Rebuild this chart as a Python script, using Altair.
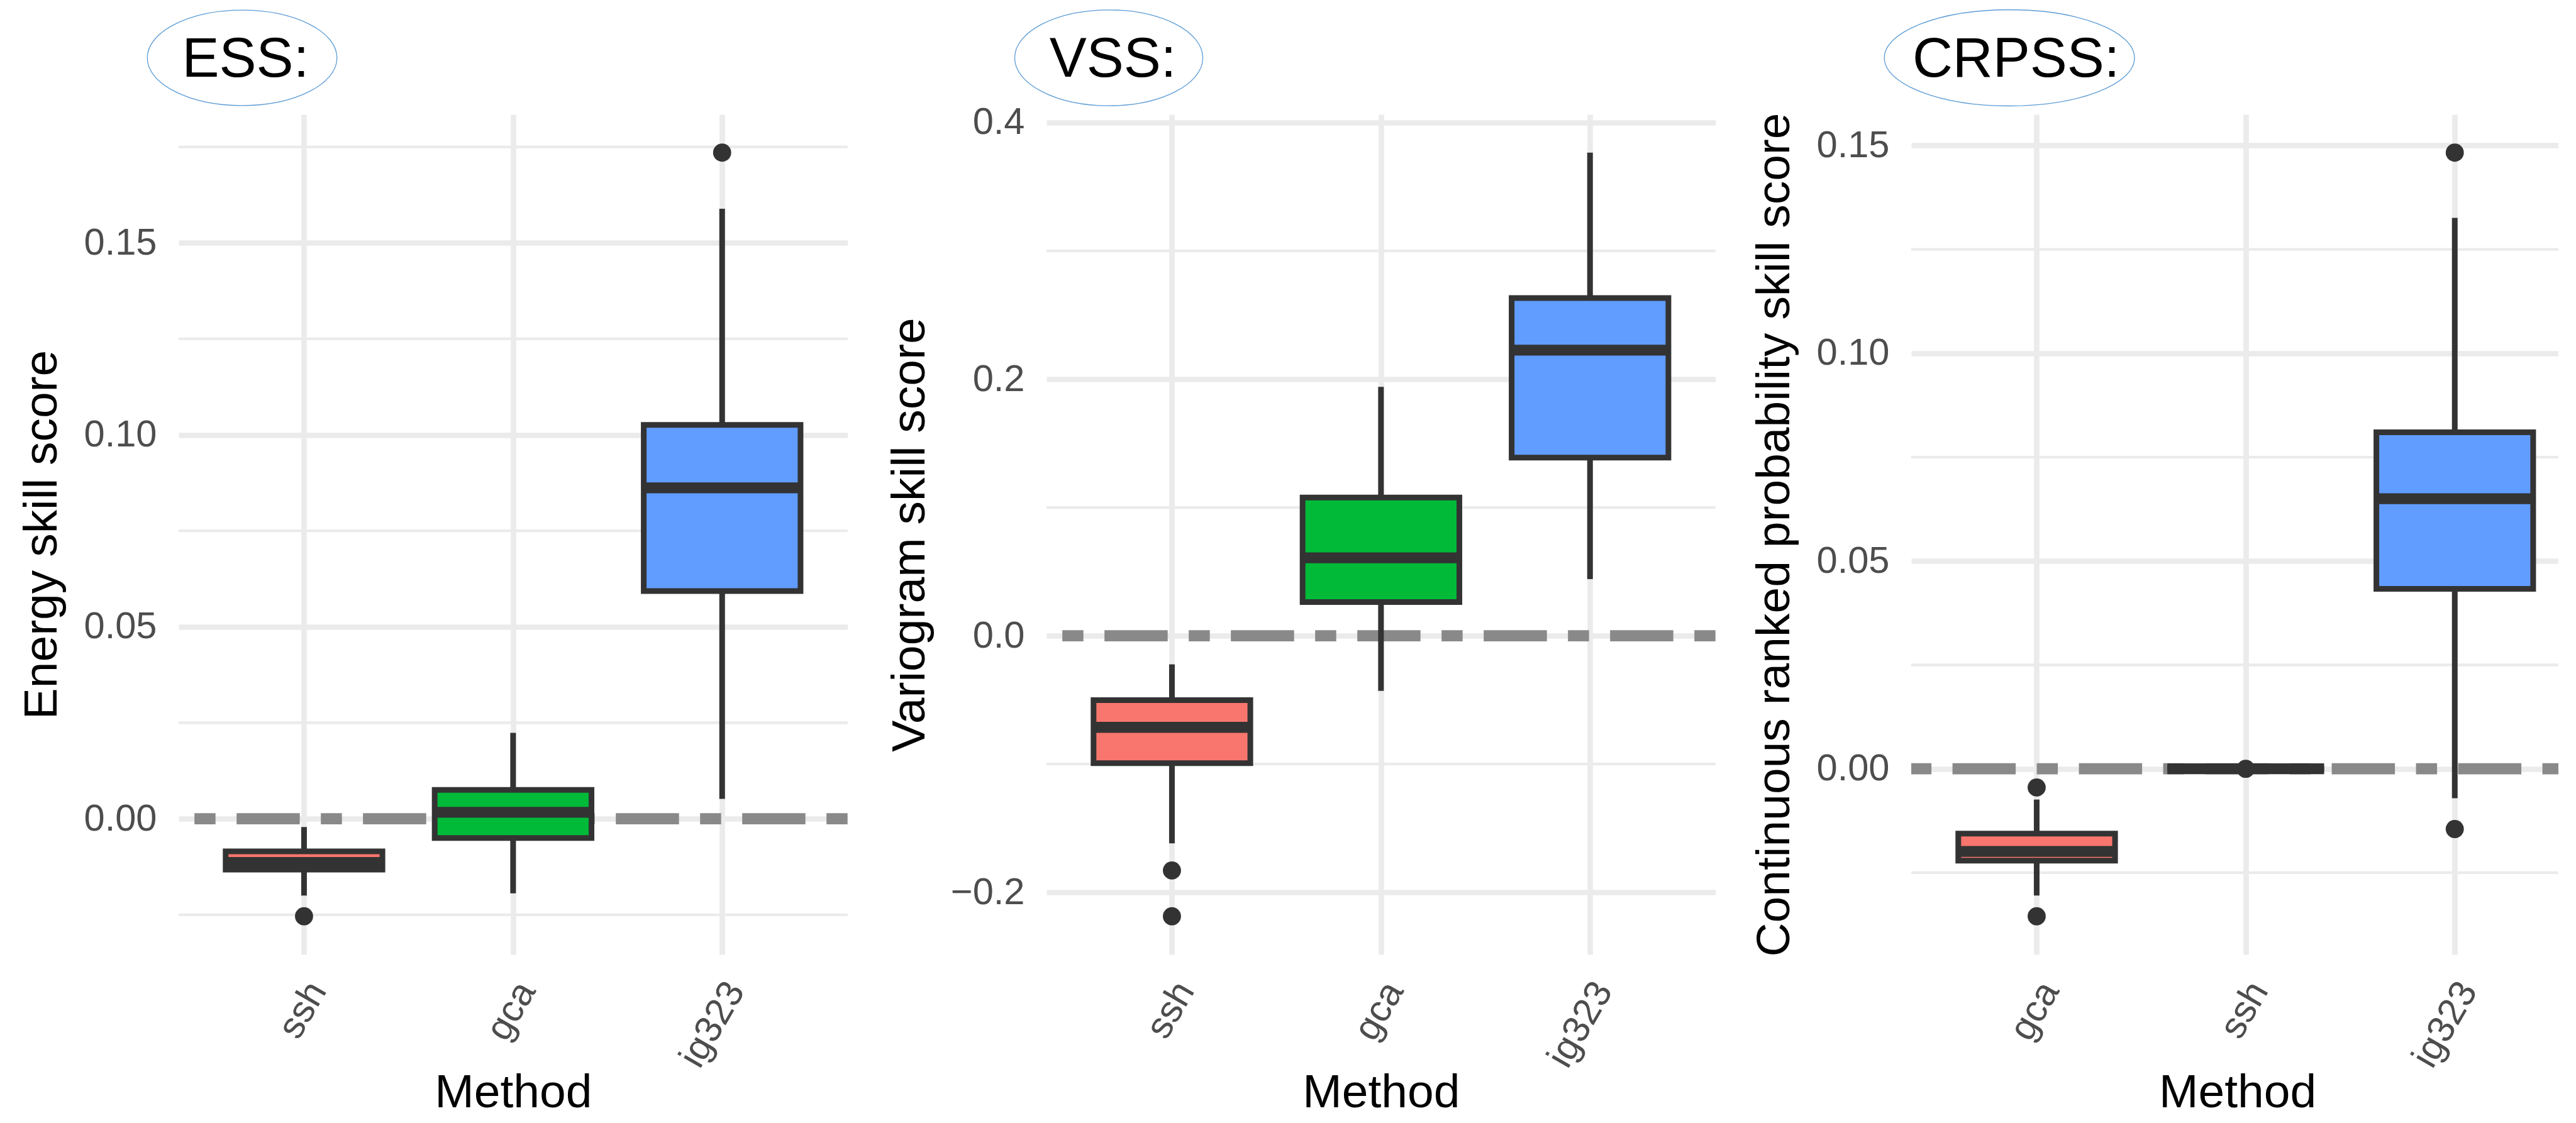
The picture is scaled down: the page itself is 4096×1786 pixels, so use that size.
import json
import altair as alt
import pandas as pd

# ---------------- data ----------------
fill_palette = ["#F8766D", "#00BA38", "#619CFF"]

ess_methods = ["ssh", "gca", "ig323"]
ess_lower = [-0.0200, -0.0194, 0.0052]
ess_q1 = [-0.01325, -0.0050, 0.0593]
ess_median = [-0.01136, 0.0017, 0.0862]
ess_q3 = [-0.00847, 0.0075, 0.1026]
ess_upper = [-0.00215, 0.0224, 0.1589]
ess_out_method = ["ssh", "ig323"]
ess_out_value = [-0.0254, 0.1735]
ess_ticks = [0.00, 0.05, 0.10, 0.15]
ess_minor = [-0.025, 0.025, 0.075, 0.125, 0.175]

vss_methods = ["ssh", "gca", "ig323"]
vss_lower = [-0.1618, -0.0430, 0.0441]
vss_q1 = [-0.0993, 0.0262, 0.1389]
vss_median = [-0.0714, 0.0608, 0.2226]
vss_q3 = [-0.0502, 0.1077, 0.2633]
vss_upper = [-0.0223, 0.1940, 0.3766]
vss_out_method = ["ssh", "ssh"]
vss_out_value = [-0.1830, -0.2187]
vss_ticks = [-0.2, 0.0, 0.2, 0.4]
vss_minor = [-0.1, 0.1, 0.3]

crpss_methods = ["gca", "ssh", "ig323"]
crpss_lower = [-0.0305, 0.0, -0.0071]
crpss_q1 = [-0.0221, 0.0, 0.0433]
crpss_median = [-0.0199, 0.0, 0.0650]
crpss_q3 = [-0.0156, 0.0, 0.0810]
crpss_upper = [-0.0074, 0.0, 0.1326]
crpss_out_method = ["gca", "gca", "ssh", "ig323", "ig323"]
crpss_out_value = [-0.0045, -0.0355, 0.0, 0.1483, -0.0145]
crpss_ticks = [0.00, 0.05, 0.10, 0.15]
crpss_minor = [-0.025, 0.025, 0.075, 0.125]

panel_titles = ["ESS:", "VSS:", "CRPSS:"]
y_titles = ["Energy skill score", "Variogram skill score",
            "Continuous ranked probability skill score"]
x_title = "Method"

# ---------------- styling / layout ----------------
FONT = "Liberation Sans"
PLOT_H = 1336
STEP = 332.4
LINE_W = 9.0
MED_W = 17.3
GRID_MAJOR = 8.7
GRID_MINOR = 4.35
ELL_COLOR = "#5B9BD5"


def panel(methods, lower, q1, med, q3, upper, out_m, out_v, ticks, minor,
          fmt, title, ytitle, xmax, ell_cx, ell_w, ell_h, txt_cx):
    pos = [i + 1 for i in range(len(methods))]
    box = pd.DataFrame({
        "method": methods, "pos": pos,
        "xmin": [p - 0.375 for p in pos], "xmax": [p + 0.375 for p in pos],
        "lower": lower, "q1": q1, "median": med, "q3": q3, "upper": upper,
    })
    pmap = dict(zip(methods, pos))
    outl = pd.DataFrame({"method": out_m, "pos": [pmap[m] for m in out_m],
                         "value": out_v})
    lo = min(min(lower), min(out_v))
    hi = max(max(upper), max(out_v))
    ex = (hi - lo) * 0.05
    ydom = [lo - ex, hi + ex]
    width = (xmax - 0.4) * STEP

    yaxis = alt.Axis(values=ticks, format=fmt, grid=True, gridColor="#EBEBEB",
                     gridWidth=GRID_MAJOR, domain=False, ticks=False, tickSize=0,
                     labelFontSize=59.6, labelColor="#4D4D4D", labelPadding=35,
                     titleFontSize=75, titleColor="#000000", titlePadding=38,
                     titleFontWeight="normal", minExtent=140, maxExtent=140,
                     titleLimit=3000)
    label_expr = json.dumps([""] + methods) + "[datum.value]"
    xaxis = alt.Axis(values=pos, labelExpr=label_expr, grid=True,
                     gridColor="#EBEBEB", gridWidth=GRID_MAJOR, domain=False,
                     ticks=False, tickSize=0, labelAngle=-60, labelAlign="right",
                     labelBaseline="top", labelPadding=33.5, labelOffset=-4,
                     labelFontSize=59.6, labelColor="#4D4D4D", labelFlush=False,
                     labelOverlap=False, titleFontSize=75, titleColor="#000000",
                     titleFontWeight="normal", titlePadding=7.3,
                     minExtent=176, maxExtent=176)
    xscale = alt.Scale(domain=[0.4, xmax], nice=False, zero=False)
    yscale = alt.Scale(domain=ydom, nice=False, zero=False)

    def X(f):
        return alt.X(f"{f}:Q", scale=xscale, axis=xaxis, title=x_title)

    def Y(f):
        return alt.Y(f"{f}:Q", scale=yscale, axis=yaxis, title=ytitle)

    minor_layer = alt.Chart(pd.DataFrame({"minor": minor})).mark_rule(
        color="#EBEBEB", strokeWidth=GRID_MINOR).encode(y=Y("minor"))
    zero_layer = alt.Chart(pd.DataFrame({"ref": [0.0]})).mark_rule(
        color="#898989", strokeWidth=17.7,
        strokeDash=[33.5, 33.5, 100.5, 33.5]).encode(y=Y("ref"))
    base = alt.Chart(box)
    up_w = base.mark_rule(color="#333333", strokeWidth=LINE_W).encode(
        x=X("pos"), y=Y("upper"), y2=alt.Y2("q3"))
    lo_w = base.mark_rule(color="#333333", strokeWidth=LINE_W).encode(
        x=X("pos"), y=Y("q1"), y2=alt.Y2("lower"))
    rect = base.mark_rect(stroke="#333333", strokeWidth=LINE_W, opacity=1).encode(
        x=X("xmin"), x2=alt.X2("xmax"), y=Y("q1"), y2=alt.Y2("q3"),
        color=alt.Color("method:N", scale=alt.Scale(domain=methods,
                                                     range=fill_palette),
                        legend=None))
    med_l = base.mark_rule(color="#333333", strokeWidth=MED_W).encode(
        x=X("xmin"), x2=alt.X2("xmax"), y=Y("median"))
    pts = alt.Chart(outl).mark_circle(size=830, color="#333333",
                                      opacity=1).encode(x=X("pos"), y=Y("value"))

    r = ell_h / ell_w
    path = f"M -1 0 A 1 {r:.4f} 0 1 1 1 0 A 1 {r:.4f} 0 1 1 -1 0 Z"
    lab = pd.DataFrame({"label": [title]})
    ell = alt.Chart(lab).mark_point(shape=path, size=ell_w * ell_w,
                                     filled=False, color=ELL_COLOR,
                                     strokeWidth=1.3, opacity=1).encode(
        x=alt.value(ell_cx), y=alt.value(-90))
    txt = alt.Chart(lab).mark_text(fontSize=88.5, color="#000000",
                                   align="center", baseline="alphabetic").encode(
        x=alt.value(txt_cx), y=alt.value(-59.6), text="label:N")

    return alt.layer(minor_layer, zero_layer, pts, up_w, lo_w, rect, med_l,
                     ell, txt).properties(width=width, height=PLOT_H)


p1 = panel(ess_methods, ess_lower, ess_q1, ess_median, ess_q3, ess_upper,
           ess_out_method, ess_out_value, ess_ticks, ess_minor, ".2f",
           panel_titles[0], y_titles[0], 3.6, 101, 301.6, 151.8, 106.4)
p2 = panel(vss_methods, vss_lower, vss_q1, vss_median, vss_q3, vss_upper,
           vss_out_method, vss_out_value, vss_ticks, vss_minor, ".1f",
           panel_titles[1], y_titles[1], 3.6, 99, 299.2, 152.4, 105.5)
p3 = panel(crpss_methods, crpss_lower, crpss_q1, crpss_median, crpss_q3,
           crpss_upper, crpss_out_method, crpss_out_value, crpss_ticks,
           crpss_minor, ".2f", panel_titles[2], y_titles[2], 3.52, 156.1,
           397.8, 153.0, 166.6)

inner = alt.hconcat(p1, p2, spacing=51).resolve_scale(color="independent")
chart = alt.hconcat(inner, p3, spacing=46).resolve_scale(
    color="independent").properties(
    padding={"left": 21, "top": 4, "right": -17.7, "bottom": 1},
    background="#FFFFFF",
).configure(font=FONT).configure_view(stroke="transparent")

chart.save("out.html", embed_options={"renderer": "svg", "actions": False})
